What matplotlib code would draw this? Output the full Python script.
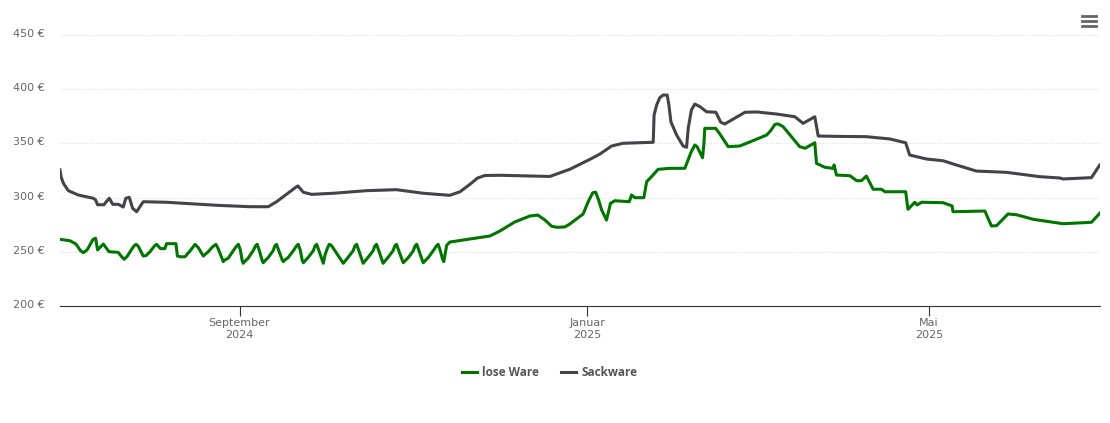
import matplotlib.pyplot as plt
from matplotlib.transforms import ScaledTranslation

# DATA

#days since the start of the chart (30 June 2024) and the price in euro
lose_days = [0,3.5,5.6,7.2,8.2,9.5,11.6,12.5,13.2,15.2,17.2,20.4,21.5,22.5,23.5,24.6,26,26.7,27.5,29.2,30.2,31.6,33.2,33.9,35.3,36.8,37.4,40.7,41.2,42.5,43.9,46,47.4,48.5,50.3,52,53.5,54.7,55.5,57.3,
             57.8,59,60.8,62,62.6,63.3,63.9,64.3,64.8,66,67.8,68.6,69.2,69.9,70.9,71.3,71.8,73,74.8,75.4,76,76.7,78,78.4,78.9,80,81.9,83,83.6,84.3,85,85.4,85.9,87,88.9,89.5,90.1,90.8,92,92.4,93,93.8,94.5,95.2,96.5,98,99,99.4,99.9,101,102.9,103.5,104.1,104.8,106,106.4,106.9,108,109.9,110.5,111.1,111.8,113,113.4,113.9,115,116.9,117.5,118.1,118.8,120.1,120.5,121,122.2,124,124.6,125.2,125.9,127.1,127.5,128,129.2,131,132.1,132.7,133.4,134.3,134.7,135.1,135.7,136.8,
             143.9,150.9,154.4,159.6,164.9,167.7,170.2,172.6,174.5,177.2,178.9,183.6,185.5,187,188,189,190.1,191.8,193.2,194.7,199.8,200.6,201.8,204.9,205.9,207.5,209.9,214,219.3,221.5,222.8,223.6,225.5,226,226.3,230.1,231.5,234.5,238.6,248,249.5,250.9,252,253.8,259.6,261.5,264.9,265.5,268.4,271.3,271.7,272.5,277.2,279.6,281.3,283,285.4,288.3,289.5,296.8,297.6,300,300.8,302.4,309.9,313.1,313.4,324.6,326.9,328.7,332.7,335.7,341.5,352,362,364.9]
lose_price = [261.5,260.2,257.2,251,249.2,251.7,261.5,262.5,251.7,257.2,250.1,249.5,246,243.1,245.5,250.1,255.5,256.9,255,246.1,246.5,250.1,255.5,256.9,252.9,252.9,257.5,257.5,246.1,245.3,245.5,252,256.9,254,246.1,250,254.5,256.9,253,240.9,
              242.4,244,251,255.4,256.9,251.7,242.4,239.4,241,244,251,255.4,256.9,251.7,242.4,239.9,241.4,244.5,251,255.4,256.9,251.7,242.4,240.9,242.4,244.5,251,255.4,256.9,251.7,242.4,239.9,241.4,244.5,251,255.4,256.9,251.7,242.4,239.4,247,253,256.9,256,251,245,241,239.4,241,244.5,251,255.4,256.9,251.7,242.4,239.4,241,244.5,251,255.4,256.9,251.7,242.4,239.4,241,244.5,251,255.4,256.9,251.7,242.4,239.9,241.4,244.5,251,255.4,256.9,251.7,242.4,239.9,241.4,244.5,251,255.4,256.9,251.7,243,241,247,256,259,
              261.8,264.6,269.2,277.5,283,283.9,279.3,273.5,272.6,272.9,275.6,284.9,297,304.5,305,298,288.6,279.3,294.7,297.1,296.2,302.4,299.9,299.9,314.7,319,326.1,327,327,342,348.5,347,336.8,350,363.9,363.9,359,347,347.6,357.7,362,367.5,368,365.4,347,345.5,350.6,331.6,328,327,330.1,320.8,320.2,315.6,315.6,319.9,307.7,307.7,305.4,305.4,289.2,295.7,293.2,295.7,295.3,292.3,287,287.6,273.8,274.1,284.9,284.2,280,275.9,277.2,285.5]

sack_days = [0,0.4,1.2,2.9,6.4,11.7,12.5,13.2,15.4,16.5,17.3,18.5,20.5,22.2,23.1,24.3,25.5,26.9,29.2,37.4,55,66.7,73.1,76,82.5,83.5,85.4,88.3,95.9,107.6,118.1,127.5,136.8,140.4,143.9,146.5,149.1,154.4,171.9,178.9,186,189.5,193.6,197.6,207.6,208.2,208.5,209.4,210.5,211.7,213.1,213.7,214.4,216.4,218.7,219.9,220.5,221.6,222.8,224.6,226.9,230.2,231.9,233.3,240.4,244.5,251.5,257.9,260.8,264.9,266.1,272.5,283,291.2,296.8,298.2,304.1,309.9,314.6,321.6,332.2,343.9,350.9,352,362,364.9]
sack_price = [325.5,319,313.2,306.4,302.4,299.4,297.8,293.4,293.4,297,299.4,293.8,293.8,291.3,299.4,300.3,290.1,287,296.2,295.7,292.9,291.6,291.6,296.2,309,310.8,304.9,303,304,306.4,307.3,304,302.1,305.4,312.3,318,320.4,320.6,319.5,326.1,335.3,340.2,347.6,350.1,351,351,376.1,385.4,392.2,394.6,394.6,385.4,370,357.7,347.6,346.4,364.2,380.8,386.3,383.9,379.2,378.7,369.5,367.9,378.7,379,377.1,374.6,368.5,374.6,356.8,356.5,356.2,354.1,350.6,339.3,335.6,334,330.1,324.5,323.3,319.3,318.1,317.2,318.4,330]

y_ticks = [200,250,300,350,400,450]
y_labels = ["200 €","250 €","300 €","350 €","400 €","450 €"]
x_ticks = [63,185,305]
x_labels = ["September\n2024","Januar\n2025","Mai\n2025"]

# GRAPH

#this makes the figure the same size as the picture and places the axes in it
plt.figure(figsize = (11.1, 4.23), dpi = 100)
plt.axes([60/1110, 1 - 306/423, 1040/1110, 271/423])

#the two lines
plt.plot(lose_days, lose_price, color = "#007500", linewidth = 2.2, label = "lose Ware", solid_joinstyle = "round")
plt.plot(sack_days, sack_price, color = "#434348", linewidth = 2.2, label = "Sackware", solid_joinstyle = "round")

#this gives it pre-determined axes
plt.axis([0, 365, 200, 450])

#tick labels on both axes
plt.yticks(y_ticks, y_labels, color = "#666666", fontsize = 8, fontfamily = "DejaVu Sans")
plt.xticks(x_ticks, x_labels, color = "#666666", fontsize = 8, fontfamily = "DejaVu Sans", linespacing = 1.25)
plt.tick_params(axis = "y", length = 0, pad = 11)
plt.tick_params(axis = "x", length = 7.2, width = 0.8, color = "#333333", pad = 1.5)

#the euro labels sit a little above their dotted lines
for label in plt.gca().get_yticklabels():
    label.set_transform(label.get_transform() + ScaledTranslation(0, 2/100, plt.gcf().dpi_scale_trans))

#dotted lines across the graph, behind the data
plt.grid(axis = "y", linestyle = ":", color = "#dddddd", linewidth = 0.8)
plt.gca().set_axisbelow(True)

#only the bottom line of the box stays
plt.gca().spines[["top", "right", "left"]].set_visible(False)
plt.gca().spines["bottom"].set_color("#333333")
plt.gca().spines["bottom"].set_linewidth(0.8)

#the menu button in the top right corner
for y in [1.071, 1.052, 1.034]:
    plt.plot([0.983, 0.996], [y, y], color = "#666666", linewidth = 2, clip_on = False, transform = plt.gca().transAxes)

#and legend gives it a key
plt.legend(loc = "center", bbox_to_anchor = (0.4707, -0.247), ncol = 2, frameon = False, handlelength = 1.27, columnspacing = 1.95, handletextpad = 0.42,
           prop = {"family": "Open Sans", "size": 8.5, "weight": "bold"}, labelcolor = "#555555")

plt.savefig("out.png", dpi = 100)
